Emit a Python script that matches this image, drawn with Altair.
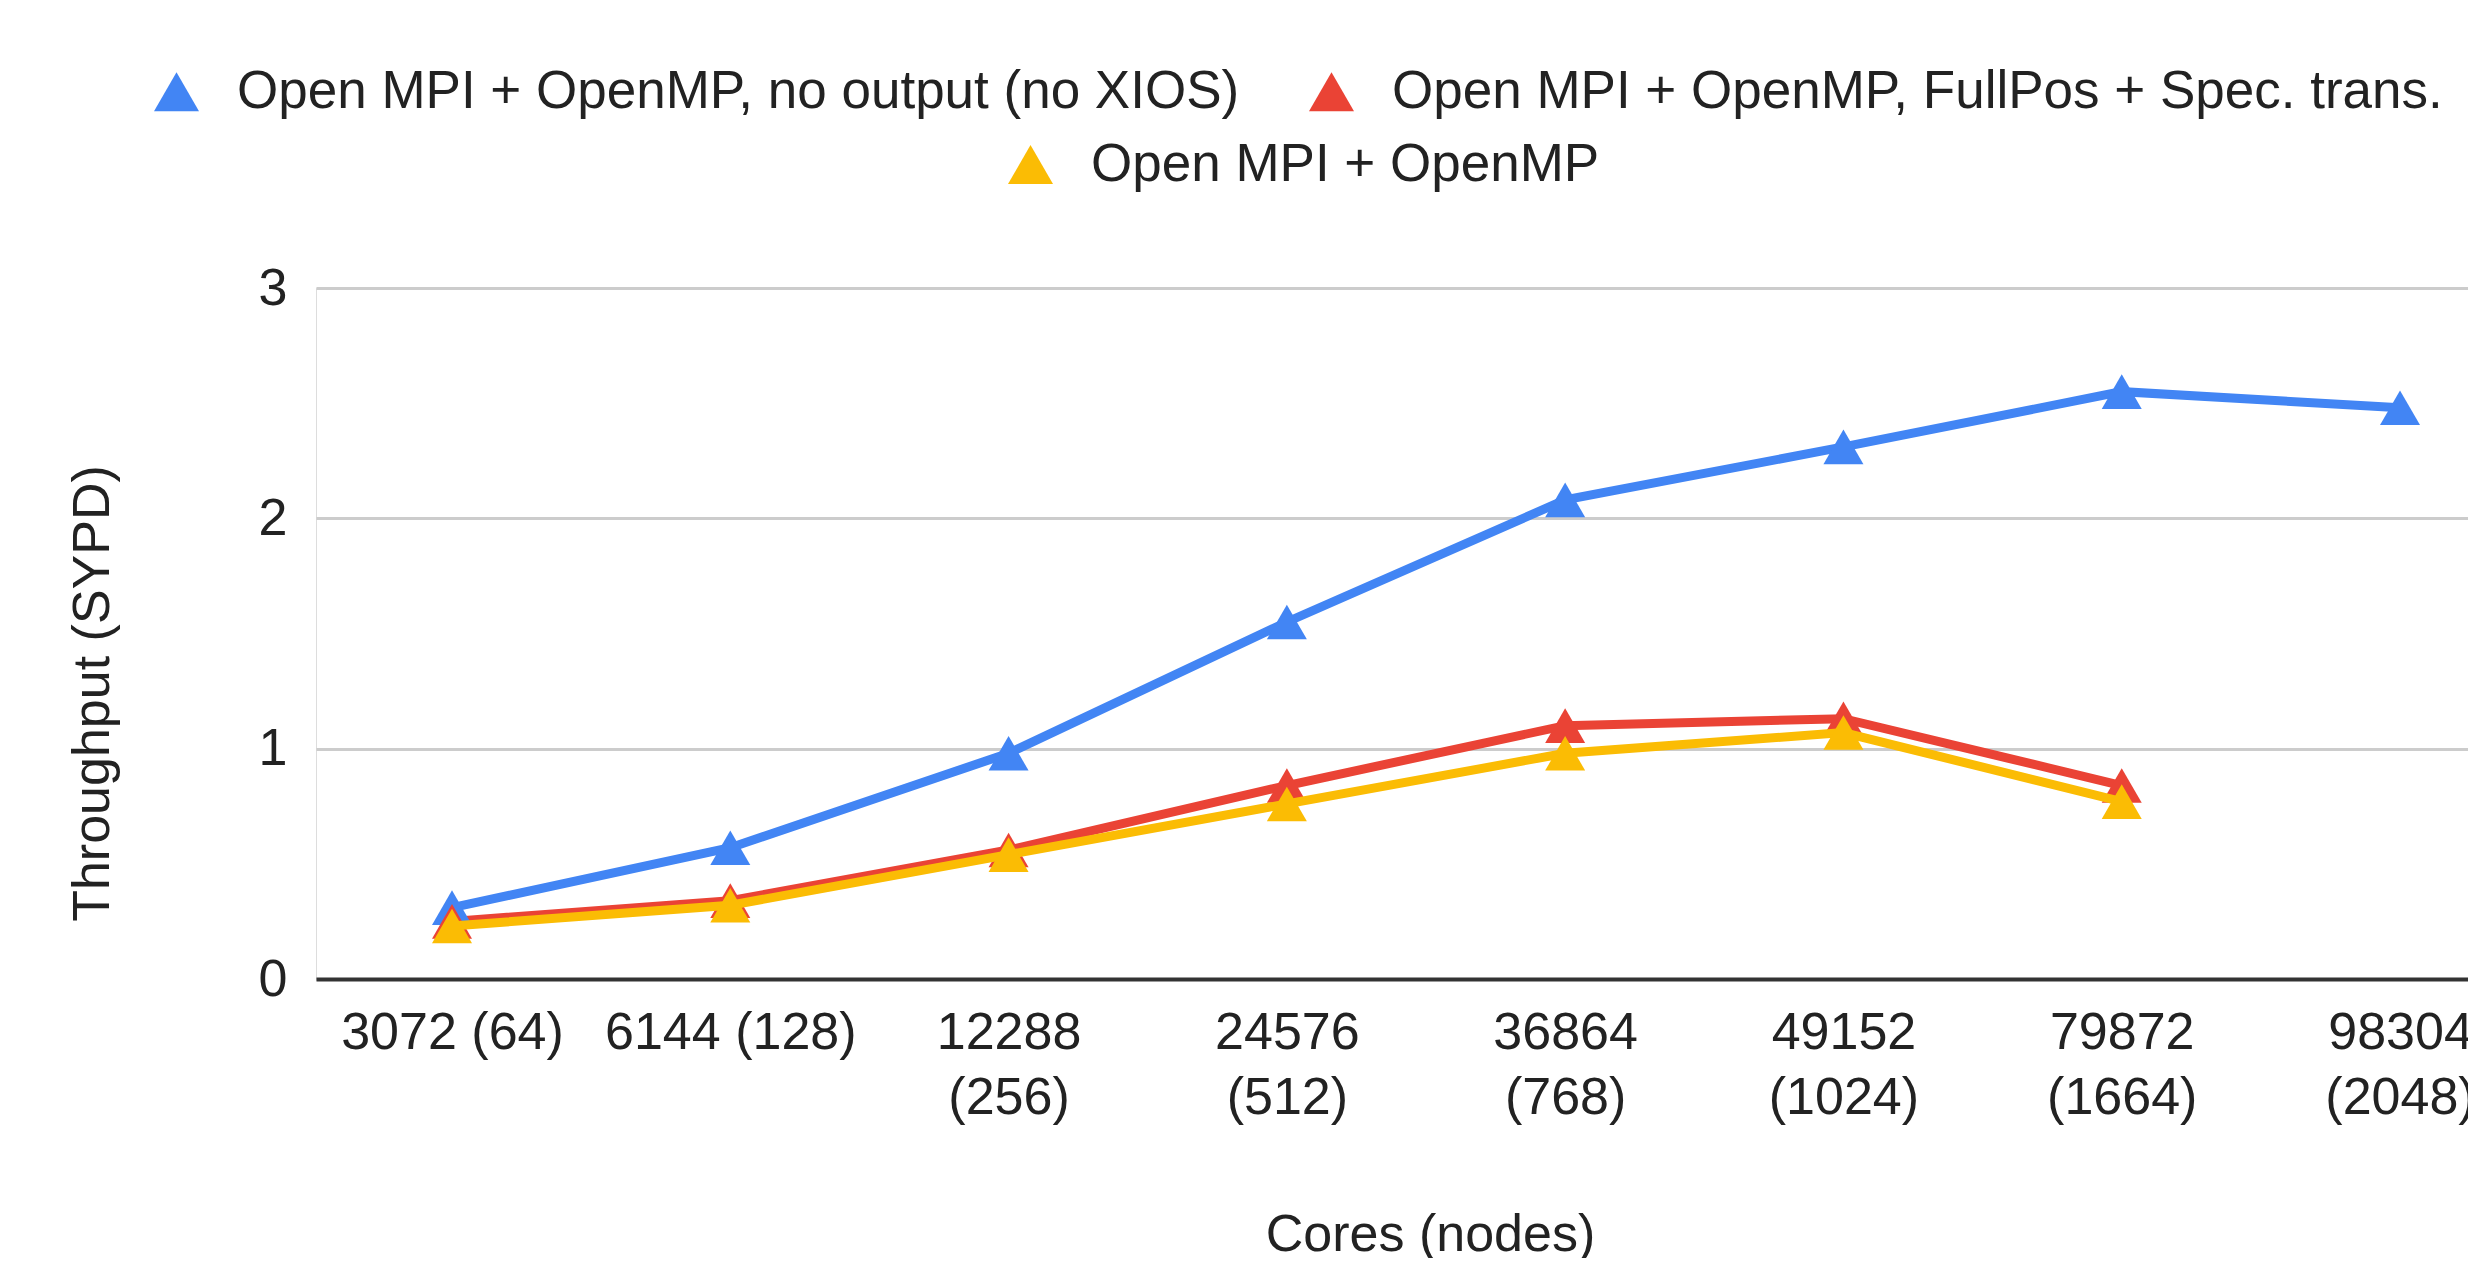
import json
import altair as alt
import pandas as pd

FONT = "Liberation Sans"

cores = [3072, 6144, 12288, 24576, 36864, 49152, 79872, 98304]
nodes = [64, 128, 256, 512, 768, 1024, 1664, 2048]
categories = [f"{c} ({n})" for c, n in zip(cores, nodes)]
# long labels wrap onto two lines, as in the reference
tick_labels = [c if len(c) <= 10 else c.split(" ") for c in categories]

series_blue = "Open MPI + OpenMP, no output (no XIOS)"
series_red = "Open MPI + OpenMP, FullPos + Spec. trans."
series_yellow = "Open MPI + OpenMP"

blue_values = [0.31, 0.57, 0.98, 1.55, 2.08, 2.31, 2.55, 2.48]
red_values = [0.25, 0.34, 0.56, 0.84, 1.10, 1.13, 0.84]
yellow_values = [0.23, 0.32, 0.54, 0.76, 0.98, 1.07, 0.77]

c_blue, c_red, c_yellow = "#4285F4", "#EA4335", "#FBBC04"

rows_a = []
for i, v in enumerate(blue_values):
    rows_a.append({"idx": i, "category": categories[i], "value": v, "series": series_blue})
for i, v in enumerate(red_values):
    rows_a.append({"idx": i, "category": categories[i], "value": v, "series": series_red})
df_a = pd.DataFrame(rows_a)
df_b = pd.DataFrame({"idx": list(range(len(yellow_values))),
                     "category": categories[:len(yellow_values)],
                     "value": yellow_values, "series": series_yellow})

PLOT_W, PLOT_H = 2152, 691

x_enc = alt.X(
    "idx:Q",
    scale=alt.Scale(domain=[-0.4887, 7.2443], nice=False, zero=False),
    axis=alt.Axis(
        title="Cores (nodes)", values=list(range(len(categories))), grid=False,
        labelExpr=json.dumps(tick_labels) + "[datum.value]",
        labelAngle=0, labelFontSize=52, labelFont=FONT, labelFlush=False,
        labelColor="#222222", labelLineHeight=65, labelPadding=28, ticks=False,
        labelOverlap=False, labelBound=False, labelLimit=1000,
        domainColor="#333333", domainWidth=4, zindex=1,
        titleFontSize=52, titleFont=FONT, titleFontWeight="normal", titleColor="#222222",
        titleX=1114, titleY=271, titleBaseline="alphabetic",
    ),
)
y_enc = alt.Y(
    "value:Q",
    scale=alt.Scale(domain=[0, 3], nice=False),
    axis=alt.Axis(
        title="Throughput (SYPD)", values=[0, 1, 2, 3], grid=True, gridColor="#cccccc",
        gridWidth=3, domain=False, ticks=False, labelPadding=29, labelFontSize=52,
        labelFont=FONT, labelColor="#222222",
        titleFontSize=52, titleFont=FONT, titleFontWeight="normal", titleColor="#222222",
        titleX=-224, titleY=405, titleAngle=270, titleBaseline="middle",
    ),
)


def make_legend(lx, ly):
    return alt.Legend(
        orient="none", legendX=lx, legendY=ly,
        direction="horizontal", title=None,
        symbolType="triangle-up", symbolSize=2025, symbolStrokeWidth=0,
        labelFontSize=53, labelFont=FONT, labelColor="#222222", labelOffset=34,
        columnPadding=65, padding=0, labelLimit=3000,
    )


def lines(df, domain, rng):
    return alt.Chart(df).mark_line(strokeWidth=9).encode(
        x=x_enc, y=y_enc,
        stroke=alt.Stroke("series:N", scale=alt.Scale(domain=domain, range=rng), legend=None),
    )


def points(df, domain, rng, leg):
    return alt.Chart(df).mark_point(shape="triangle-up", filled=True, size=1600, opacity=1).encode(
        x=x_enc, y=y_enc,
        fill=alt.Fill("series:N", scale=alt.Scale(domain=domain, range=rng), legend=leg),
    )


dom_a, rng_a = [series_blue, series_red], [c_blue, c_red]
dom_b, rng_b = [series_yellow], [c_yellow]

chart = alt.layer(
    lines(df_a, dom_a, rng_a),
    points(df_a, dom_a, rng_a, make_legend(-166, -223)),
    lines(df_b, dom_b, rng_b),
    points(df_b, dom_b, rng_b, make_legend(688, -150)),
).resolve_scale(
    fill="independent", stroke="independent"
).properties(
    width=PLOT_W, height=PLOT_H,
    autosize=alt.AutoSizeParams(type="none"),
    padding={"left": 308, "top": 280, "right": 0, "bottom": 279},
).configure_view(stroke=None).configure(font=FONT)

chart.save("out.html", embed_options={"renderer": "svg", "actions": False})
